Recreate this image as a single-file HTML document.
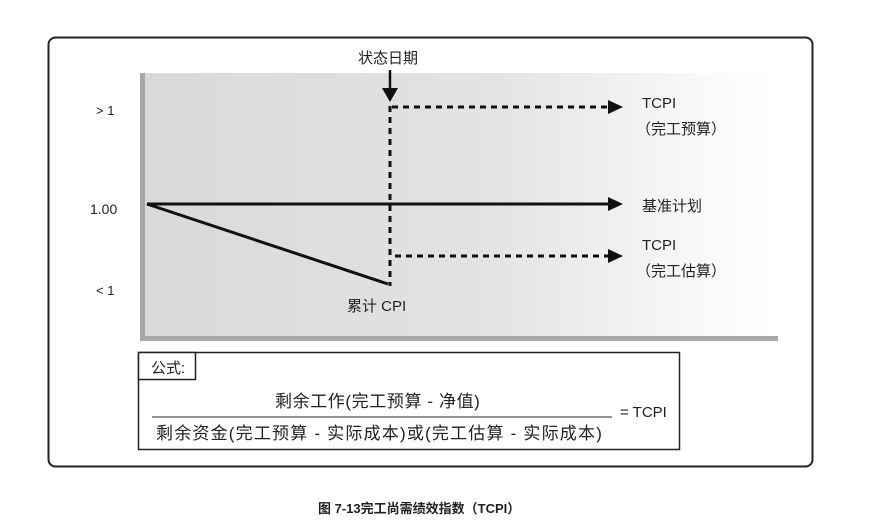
<!DOCTYPE html>
<html><head><meta charset="utf-8"><style>
body{margin:0;background:#fff;width:877px;height:526px;overflow:hidden;position:relative;font-family:"Liberation Sans","Noto Sans CJK SC",sans-serif;color:#222}
.t{position:absolute;white-space:nowrap;font-size:14px}
</style></head><body>
<svg width="877" height="526" style="position:absolute;left:0;top:0">
<defs>
<linearGradient id="g" x1="0" x2="1"><stop offset="0" stop-color="#d9d9d9"/><stop offset="0.55" stop-color="#e3e3e3"/><stop offset="0.9" stop-color="#fafafa"/><stop offset="1" stop-color="#fff"/></linearGradient>
</defs>
<rect x="48.5" y="37.5" width="764" height="429" rx="7" fill="#fff" stroke="#222" stroke-width="2"/>
<rect x="140" y="73" width="638" height="268" fill="url(#g)"/>
<rect x="140" y="73" width="5" height="268" fill="#a8a8a8"/>
<rect x="140" y="336" width="638" height="5" fill="#a8a8a8"/>
<line x1="390" y1="70" x2="390" y2="92" stroke="#111" stroke-width="2.5"/>
<polygon points="382,88 398,88 390,102" fill="#111"/>
<line x1="390" y1="106" x2="390" y2="286" stroke="#111" stroke-width="3" stroke-dasharray="6,5"/>
<line x1="392" y1="107" x2="610" y2="107" stroke="#111" stroke-width="3" stroke-dasharray="6,5"/>
<polygon points="608,100 623,107 608,114" fill="#111"/>
<line x1="147" y1="204" x2="610" y2="204" stroke="#111" stroke-width="3"/>
<polygon points="608,197 623,204 608,211" fill="#111"/>
<line x1="147" y1="204" x2="388" y2="284" stroke="#111" stroke-width="3"/>
<line x1="395" y1="256" x2="610" y2="256" stroke="#111" stroke-width="3" stroke-dasharray="6,5"/>
<polygon points="608,249 623,256 608,263" fill="#111"/>
<rect x="138.5" y="352.5" width="541" height="97" fill="#fff" stroke="#222" stroke-width="1.5"/>
<rect x="138.5" y="352.5" width="57" height="27" fill="#fff" stroke="#222" stroke-width="1.5"/>
<line x1="152" y1="417" x2="612" y2="417" stroke="#222" stroke-width="1"/>
</svg>
<div class="t" style="left:358px;top:47px;font-size:15px">状态日期</div>
<div class="t" style="left:96px;top:103px;font-size:13px">&gt; 1</div>
<div class="t" style="left:90px;top:201px;font-size:14px">1.00</div>
<div class="t" style="left:96px;top:283px;font-size:13px">&lt; 1</div>
<div class="t" style="left:347px;top:295px;font-size:15px">累计 CPI</div>
<div class="t" style="left:642px;top:95px;font-size:15px">TCPI</div>
<div class="t" style="left:636px;top:118px;font-size:15px">（完工预算）</div>
<div class="t" style="left:642px;top:195px;font-size:15px">基准计划</div>
<div class="t" style="left:642px;top:237px;font-size:15px">TCPI</div>
<div class="t" style="left:636px;top:260px;font-size:15px">（完工估算）</div>
<div class="t" style="left:151px;top:357px;font-size:15px">公式:</div>
<div class="t" style="left:275px;top:387px;font-size:17px;letter-spacing:0.6px">剩余工作(完工预算 - 净值)</div>
<div class="t" style="left:156px;top:419px;font-size:17px;letter-spacing:1.2px">剩余资金(完工预算 - 实际成本)或(完工估算 - 实际成本)</div>
<div class="t" style="left:620px;top:404px;font-size:15px">= TCPI</div>
<div class="t" style="left:318px;top:498px;font-size:13px;font-weight:bold">图 7-13完工尚需绩效指数（TCPI）</div>
</body></html>
